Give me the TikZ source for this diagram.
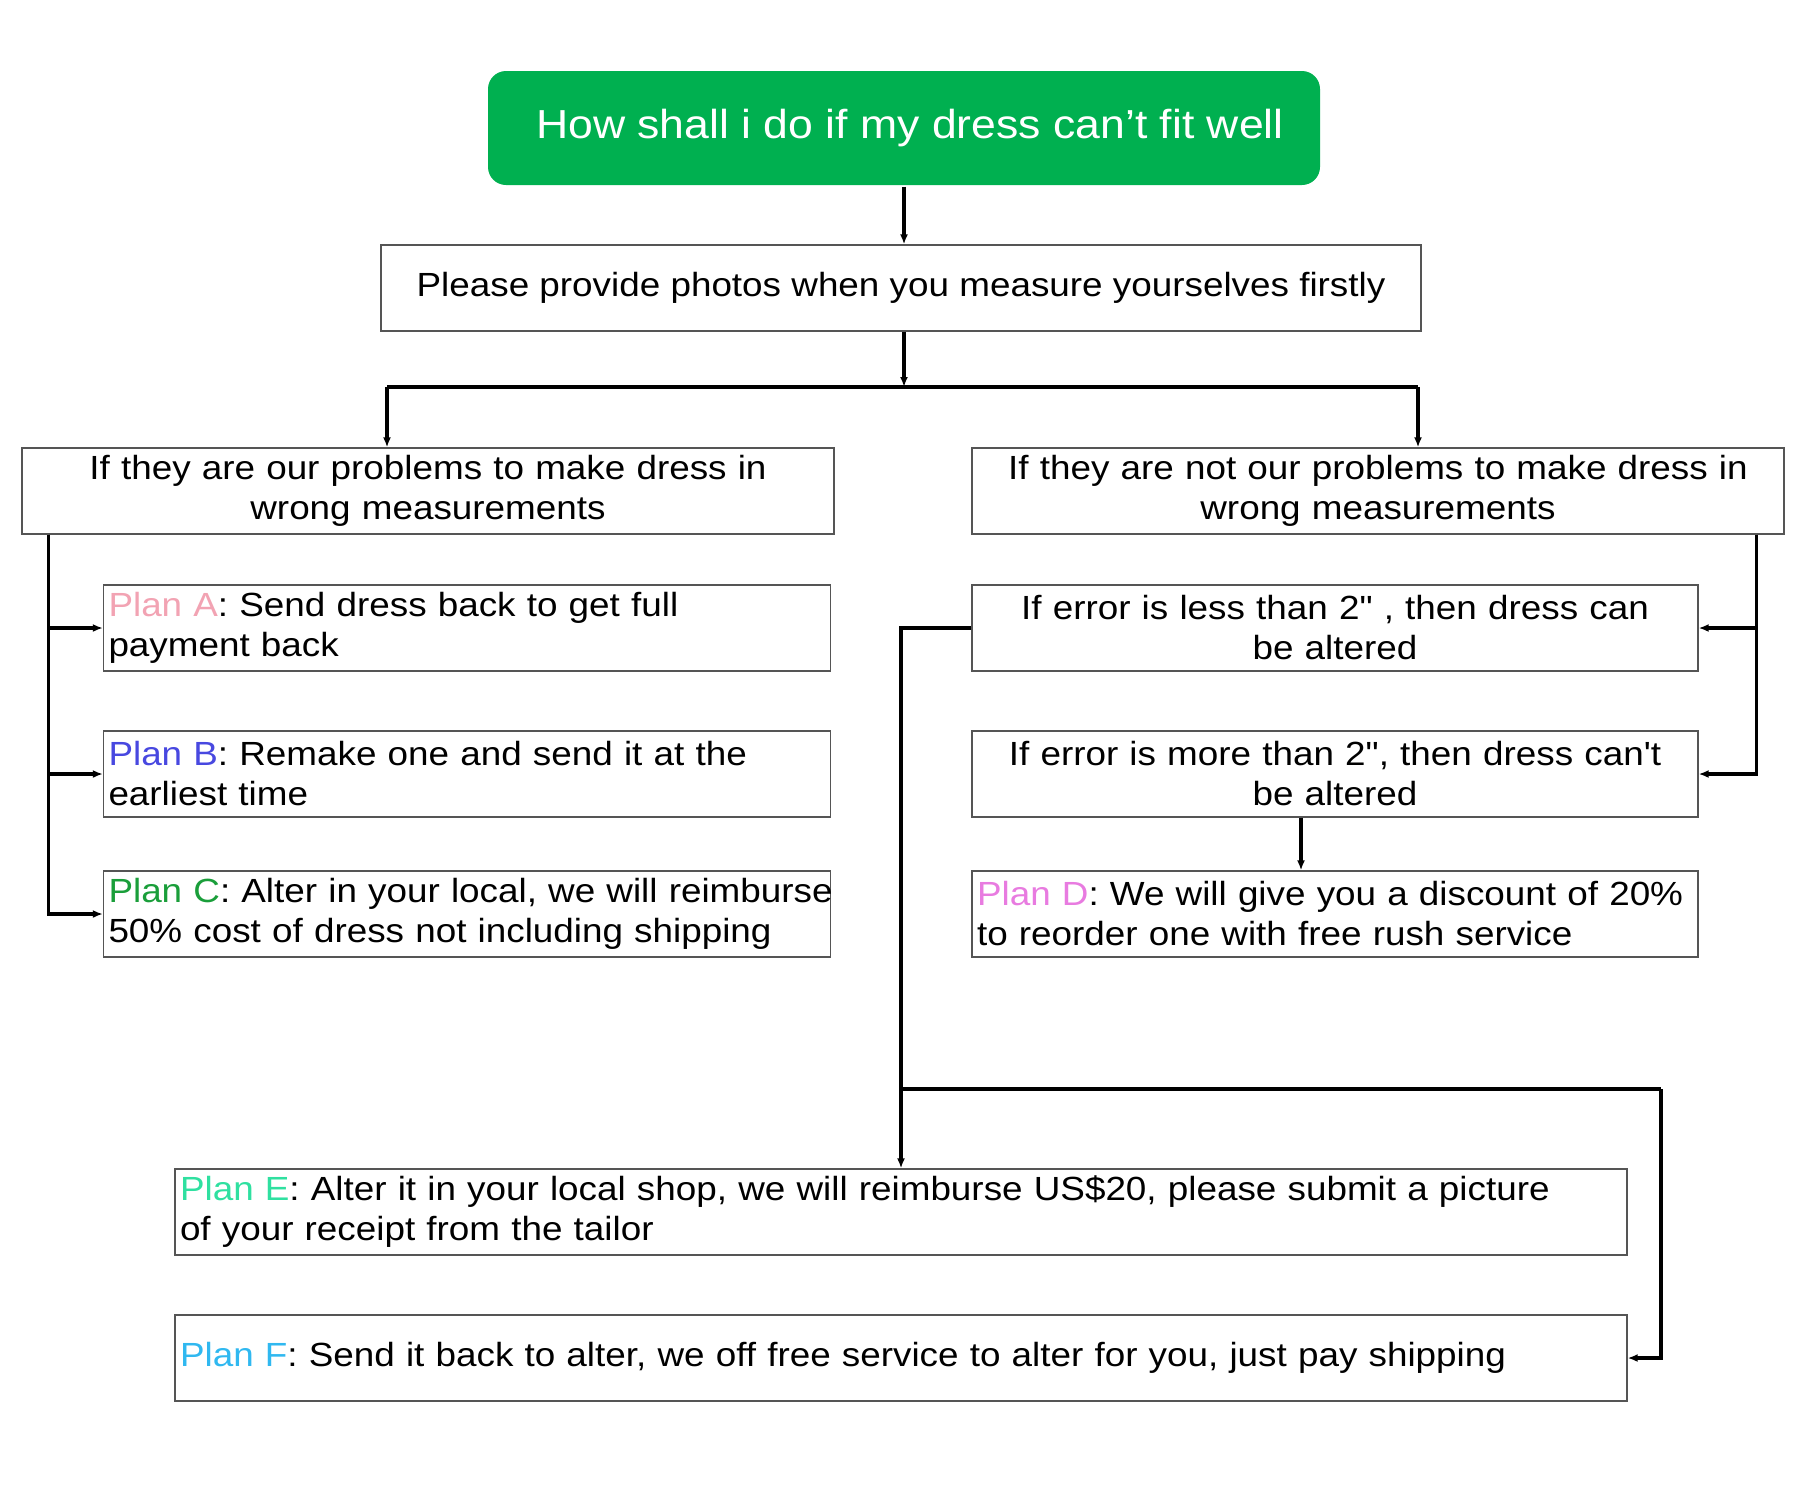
\documentclass[tikz,border=0pt]{standalone}
\usepackage{fontspec}
\setmainfont{Liberation Sans}[FakeStretch=1.1, Ligatures=TeXOff]
\usepackage{tikz}
\usetikzlibrary{arrows.meta}
\definecolor{titlegreen}{HTML}{00B050}
\definecolor{boxgrey}{HTML}{555555}
\definecolor{plana}{HTML}{F2A3B3}
\definecolor{planb}{HTML}{4848E0}
\definecolor{planc}{HTML}{1A9E3A}
\definecolor{pland}{HTML}{E87BE0}
\definecolor{plane}{HTML}{2FE0A0}
\definecolor{planf}{HTML}{30B8F0}
\tikzset{every picture/.style={line width=3.2pt}}
\tikzset{
  head/.style={fill=titlegreen, rounded corners=18pt, minimum width=832pt,
    minimum height=114pt, text=white, inner sep=0pt,
    font=\fontsize{40.5}{46}\selectfont},
  box/.style={draw=boxgrey, line width=1.3pt, rectangle, inner xsep=5pt,
    inner ysep=0pt, minimum height=86pt, font=\fontsize{33.5}{40}\selectfont},
  conn/.style={-{Latex[length=10pt,width=8pt]}}
}

\begin{document}
\begin{tikzpicture}[x=1pt,y=-1pt]
\useasboundingbox (0,0) rectangle (1800,1500);
\node[head] (top) at (904,128) {\hspace*{12pt}How shall i do if my dress can’t fit well};
\node[box, minimum width=1040pt] (photo) at (901,288) {Please provide photos when you measure yourselves firstly};
%
\node[box, text width=802pt, align=center] (our) at (428,491) {If they are our problems to make dress in\\wrong measurements};
\node[box, text width=802pt, align=center] (notour) at (1378,491) {If they are not our problems to make dress in\\wrong measurements};
%
\node[box, text width=717pt, align=left] (a) at (467,628) {\textcolor{plana}{Plan A}: Send dress back to get full\\payment back};
\node[box, text width=717pt, align=left] (b) at (467,774) {\textcolor{planb}{Plan B}: Remake one and send it at the\\earliest time};
\node[box, text width=717pt, align=left] (c) at (467,914) {\mbox{\textcolor{planc}{Plan C}: Alter in your local, we will reimburse}\\50\% cost of dress not including shipping};
%
\node[box, text width=716pt, align=center] (less) at (1335,628) {If error is less than 2" , then dress can\\be altered};
\node[box, text width=716pt, align=center] (more) at (1335,774) {If error is more than 2", then dress can't\\be altered};
\node[box, text width=716pt, align=left] (d) at (1335,914) {\mbox{\textcolor{pland}{Plan D}: We will give you a discount of 20\%}\\to reorder one with free rush service};
%
\node[box, text width=1442pt, align=left] (e) at (901,1212) {\textcolor{plane}{Plan E}: Alter it in your local shop, we will reimburse US\$20, please submit a picture\\of your receipt from the tailor};
\node[box, text width=1442pt, align=left] (f) at (901,1358) {\textcolor{planf}{Plan F}: Send it back to alter, we off free service to alter for you, just pay shipping};
%
\coordinate (split) at (904,387);
\coordinate (jl) at (387,387);
\coordinate (jr) at (1418,387);
\coordinate (ls) at ([xshift=27pt]our.south west);
\coordinate (rs) at ([xshift=-28pt]notour.south east);
\coordinate (md) at ([xshift=-34pt]more.south);
\coordinate (ej) at (900,1089);
\coordinate (fj) at (1661,1089);
%
\draw[conn] (top.south -| split) -- (split |- photo.north);
\draw[conn] (photo.south -| split) -- (split);
\draw (jl) -- (jr);
\draw[conn] (jl) -- (jl |- our.north);
\draw[conn] (jr) -- (jr |- notour.north);
\foreach \Target in {a,b,c}
\draw[conn] (ls) |- (\Target.west);
\foreach \Target in {less,more}
\draw[conn] (rs) |- (\Target.east);
\draw[conn] (md) -- (md |- d.north);
\draw[conn] (less.west) -| (e.north);
\draw (ej) -- (fj);
\draw[conn] (fj) |- (f.east);
\end{tikzpicture}
\end{document}
